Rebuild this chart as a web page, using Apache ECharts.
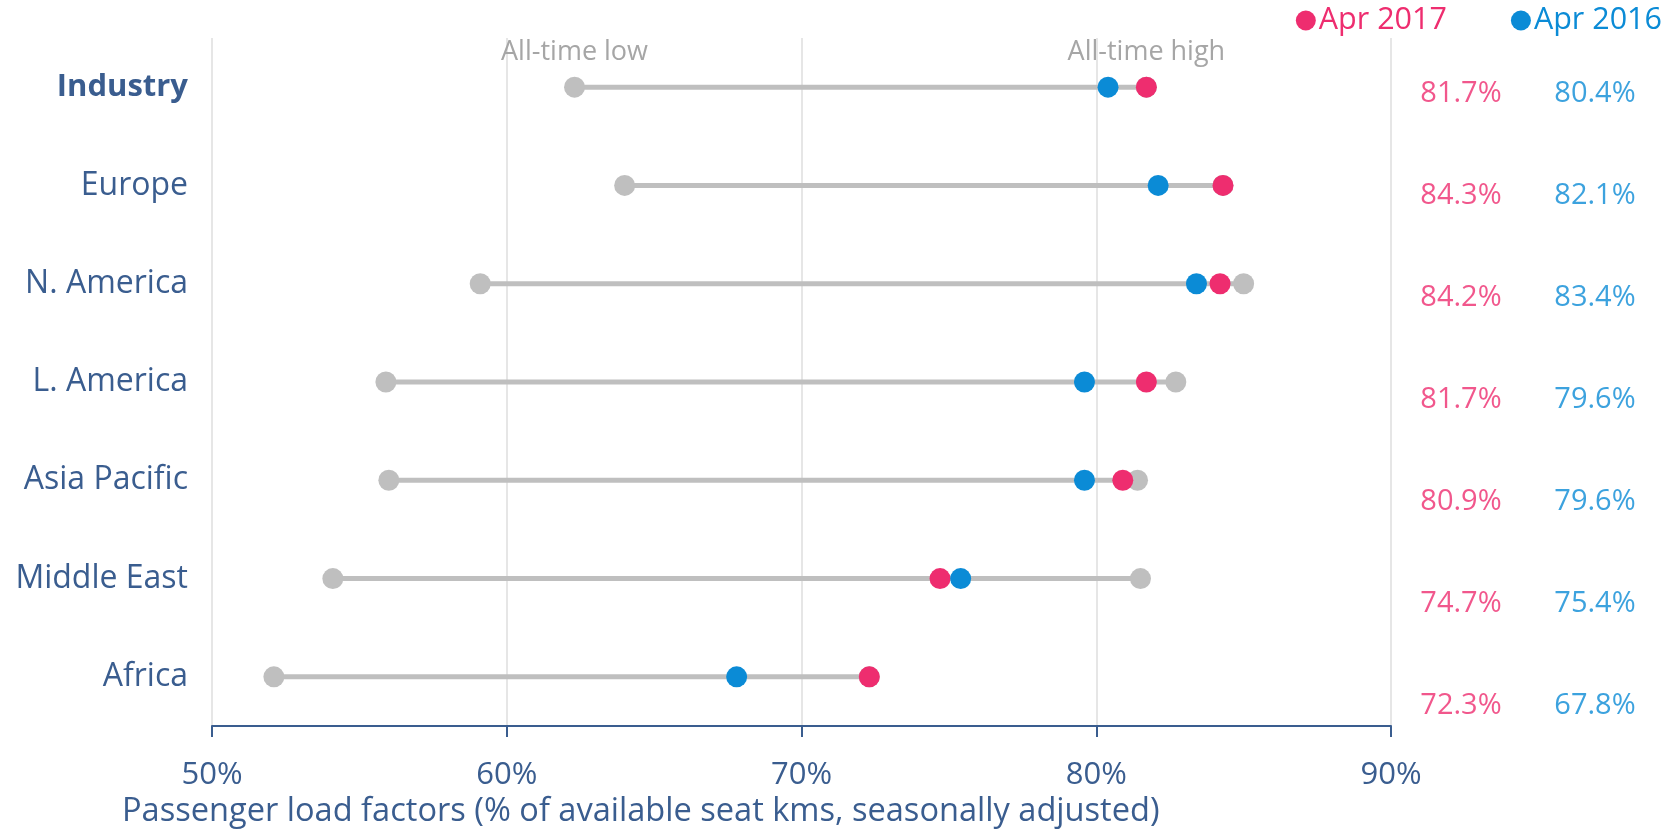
<!DOCTYPE html>
<html>
<head>
<meta charset="utf-8">
<script src="https://cdn.jsdelivr.net/npm/echarts@6/dist/echarts.min.js"></script>
<style>
  html, body { margin: 0; padding: 0; background: #fff; }
  #chart { width: 1662px; height: 830px; }
</style>
</head>
<body>
<div id="chart"></div>
<script>
// Regions, top to bottom
const regions = ["Industry", "Europe", "N. America", "L. America", "Asia Pacific", "Middle East", "Africa"];
// All-time low / high load factors (%)
const allTimeLow = [62.3, 64.0, 59.1, 55.9, 56.0, 54.1, 52.1];
const allTimeHigh = [81.7, 84.3, 85.0, 82.7, 81.4, 81.5, 72.3];
// Current values
const apr2017 = [81.7, 84.3, 84.2, 81.7, 80.9, 74.7, 72.3];
const apr2016 = [80.4, 82.1, 83.4, 79.6, 79.6, 75.4, 67.8];
// x axis ticks
const xTicks = [50, 60, 70, 80, 90];

const PINK = "#ee2d6f";
const BLUE = "#0b8bd6";
const GRAY = "#bfbfbf";
const NAVY = "#3a5d8f";
const FONT = "Open Sans";

const chart = echarts.init(document.getElementById("chart"));

// Gray end points, with the "All-time" notes on the Industry row
const endPoints = (vals, note) =>
  vals.map((v, i) => {
    const item = { value: [v, regions[i]] };
    if (i === 0) {
      item.label = {
        show: true,
        formatter: note,
        position: "top",
        distance: 11,
        color: "#a6a6a6",
        fontSize: 27,
        fontFamily: FONT,
      };
    }
    return item;
  });

const option = {
  animation: false,
  textStyle: { fontFamily: FONT },
  title: {
    text: "Passenger load factors (% of available seat kms, seasonally adjusted)",
    left: 122,
    top: 795,
    padding: 0,
    textStyle: { color: NAVY, fontSize: 32.6, fontWeight: "normal", fontFamily: FONT },
  },
  legend: {
    data: [
      { name: "Apr 2017", textStyle: { color: PINK } },
      { name: "Apr 2016", textStyle: { color: BLUE } },
    ],
    icon: "circle",
    itemWidth: 20,
    itemHeight: 20,
    itemGap: 64,
    right: 0,
    top: 5,
    padding: 0,
    textStyle: { fontSize: 30.5, fontFamily: FONT, padding: [0, 0, 0, -2] },
  },
  grid: [
    { left: 212, right: 271, top: 38, bottom: 104 },
    { left: 1394, width: 280, top: 43, bottom: 73 },
  ],
  xAxis: [
    {
      type: "value",
      gridIndex: 0,
      min: xTicks[0],
      max: xTicks[xTicks.length - 1],
      interval: 10,
      axisLine: { show: true, lineStyle: { color: NAVY, width: 2 } },
      axisTick: { show: true, length: 11, lineStyle: { color: NAVY, width: 2 } },
      axisLabel: {
        formatter: (v) => v + "%",
        color: NAVY,
        fontSize: 31,
        fontFamily: FONT,
        margin: 34,
      },
      splitLine: { show: true, lineStyle: { color: "#dedede", width: 1.5 } },
    },
    {
      type: "category",
      gridIndex: 1,
      data: ["Apr 2017", "Apr 2016"],
      show: false,
    },
  ],
  yAxis: [
    {
      type: "category",
      gridIndex: 0,
      data: regions,
      inverse: true,
      axisLine: { show: false },
      axisTick: { show: false },
      splitLine: { show: false },
      axisLabel: {
        margin: 24,
        formatter: (v, i) => (i === 0 ? "{b|" + v + "}" : "{n|" + v + "}"),
        rich: {
          b: { color: NAVY, fontSize: 31, fontWeight: "bold", fontFamily: FONT },
          n: { color: NAVY, fontSize: 32, fontFamily: FONT },
        },
      },
    },
    {
      type: "category",
      gridIndex: 1,
      data: regions,
      inverse: true,
      show: false,
    },
  ],
  series: [
    {
      name: "range",
      type: "custom",
      xAxisIndex: 0,
      yAxisIndex: 0,
      encode: { x: [0, 1], y: 2 },
      data: regions.map((r, i) => [allTimeLow[i], allTimeHigh[i], i]),
      renderItem: (params, api) => {
        const a = api.coord([api.value(0), api.value(2)]);
        const b = api.coord([api.value(1), api.value(2)]);
        return {
          type: "line",
          shape: { x1: a[0], y1: a[1], x2: b[0], y2: b[1] },
          style: { stroke: GRAY, lineWidth: 5 },
        };
      },
      z: 1,
    },
    {
      name: "low",
      type: "scatter",
      symbolSize: 21,
      itemStyle: { color: GRAY, opacity: 1 },
      data: endPoints(allTimeLow, "All-time low"),
      z: 2,
    },
    {
      name: "high",
      type: "scatter",
      symbolSize: 21,
      itemStyle: { color: GRAY, opacity: 1 },
      data: endPoints(allTimeHigh, "All-time high"),
      z: 2,
    },
    {
      name: "Apr 2017",
      type: "scatter",
      symbolSize: 21,
      itemStyle: { color: PINK, opacity: 1 },
      data: apr2017.map((v, i) => [v, regions[i]]),
      z: 3,
    },
    {
      name: "Apr 2016",
      type: "scatter",
      symbolSize: 21,
      itemStyle: { color: BLUE, opacity: 1 },
      data: apr2016.map((v, i) => [v, regions[i]]),
      z: 4,
    },
    // value columns on the right
    {
      name: "lbl2017",
      type: "scatter",
      xAxisIndex: 1,
      yAxisIndex: 1,
      symbolSize: 0,
      data: apr2017.map((v, i) => ["Apr 2017", regions[i], v]),
      label: {
        show: true,
        position: "inside",
        formatter: (p) => p.value[2].toFixed(1) + "%",
        color: PINK,
        fontSize: 29,
        fontFamily: FONT,
      },
    },
    {
      name: "lbl2016",
      type: "scatter",
      xAxisIndex: 1,
      yAxisIndex: 1,
      symbolSize: 0,
      data: apr2016.map((v, i) => ["Apr 2016", regions[i], v]),
      label: {
        show: true,
        position: "inside",
        formatter: (p) => p.value[2].toFixed(1) + "%",
        color: BLUE,
        fontSize: 29,
        fontFamily: FONT,
      },
    },
  ],
};

chart.setOption(option);
</script>
</body>
</html>
